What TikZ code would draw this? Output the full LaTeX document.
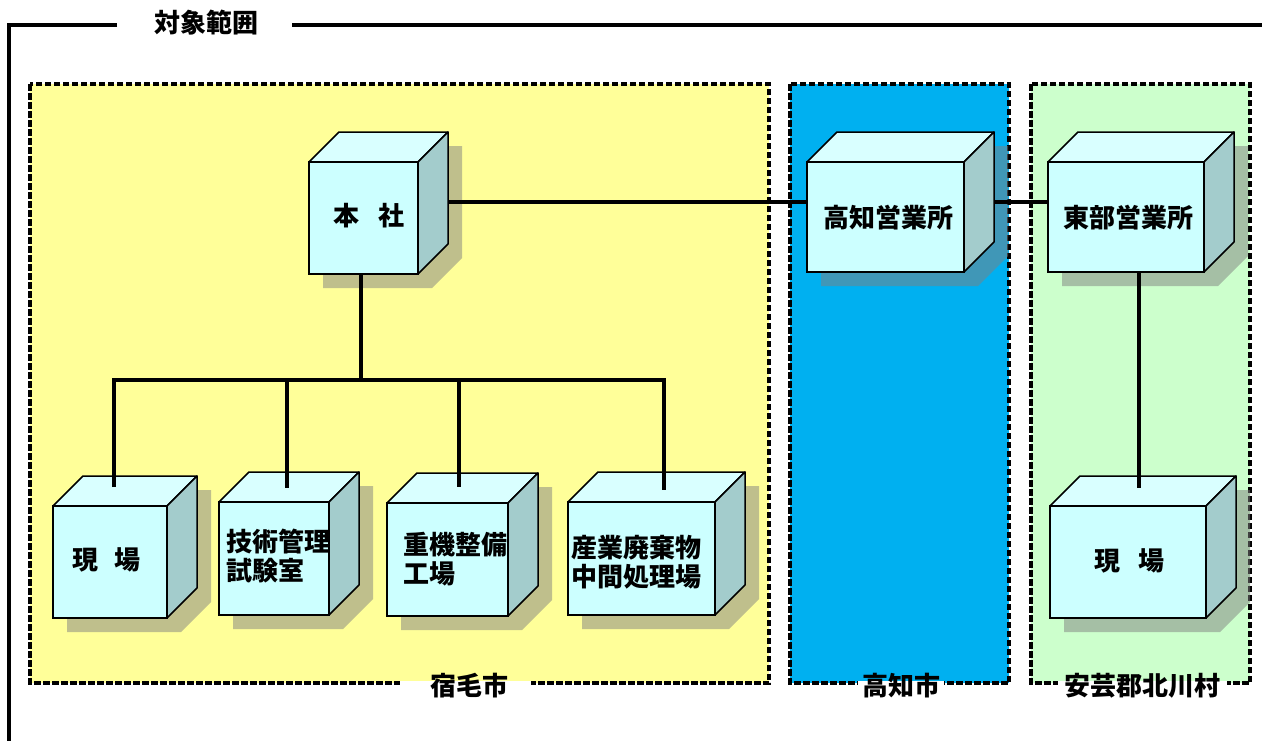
\documentclass[tikz,border=0pt]{standalone}
\usepackage{fontspec}
\setmainfont{Noto Sans CJK JP}
\definecolor{cyellow}{HTML}{FFFF99}
\definecolor{cblue}{HTML}{00B0F0}
\definecolor{cgreen}{HTML}{CCFFCC}
\definecolor{cfront}{HTML}{CCFFFF}
\definecolor{ctop}{HTML}{D9FFFF}
\definecolor{cside}{HTML}{A3CCCC}
\definecolor{cshadow}{RGB}{128,128,128}
\tikzset{
  conn/.style={line width=3.2pt},
  frameline/.style={line width=4pt},
  region/.style={line width=3.4pt, dash pattern=on 6.5pt off 2.5pt},
  frontf/.style={draw, line width=1.5pt, fill=cfront, inner sep=0pt, outer sep=0pt},
  topf/.style={draw, line width=1.5pt, fill=ctop, line join=round},
  sidef/.style={draw, line width=1.5pt, fill=cside, line join=round},
  shad/.style={fill=cshadow, fill opacity=0.5},
  lbl/.style={font=\fontsize{26}{29}\selectfont\bfseries, inner sep=0pt, align=left},
}
% name, x1, y1, x2, y2 (front face, pixel coordinates)
\newcommand\boxcube[5]{%
  \fill[shad] (#2+14,#3+14) -- (#2+44,#3-16) -- (#4+44,#3-16) -- (#4+44,#5-16)
     -- (#4+14,#5+14) -- (#2+14,#5+14) -- cycle;
  \draw[topf] (#2,#3) -- (#2+30,#3-30) -- (#4+30,#3-30) -- (#4,#3) -- cycle;
  \draw[sidef] (#4,#3) -- (#4+30,#3-30) -- (#4+30,#5-30) -- (#4,#5) -- cycle;
  \node[frontf, minimum width={#4pt-#2pt}, minimum height={#5pt-#3pt}]
     (#1) at ({(#2+#4)/2},{(#3+#5)/2}) {};
}
\begin{document}
\begin{tikzpicture}[x=1pt,y=-1pt]
\useasboundingbox (0,0) rectangle (1262,740);

% outer frame and title
\draw[frameline] (117,25) -- (9,25) -- (9,745);
\draw[frameline] (292,25) -- (1266,25);
\node[lbl] (title) at (206,23) {対象範囲};

% regions
\draw[region, fill=cyellow] (30,84) rectangle (769,683);
\draw[region, fill=cblue] (790,84) rectangle (1009,683);
\draw[region, fill=cgreen] (1031,84) rectangle (1250,683);

% region labels
\fill[white] (400,681) rectangle (531,705);
\fill[white] (858,681) rectangle (944,705);
\fill[white] (1058,681) rectangle (1227,705);
\node[lbl] (lsukumo) at (469,686) {宿毛市};
\node[lbl] (lkochi) at (901,686) {高知市};
\node[lbl] (laki) at (1142,686) {安芸郡北川村};

% boxes
\boxcube{honsha}{309}{162}{418}{274}
\boxcube{kochi}{807}{162}{964}{272}
\boxcube{tobu}{1048}{162}{1204}{272}
\boxcube{genba1}{53}{506}{167}{618}
\boxcube{gijutsu}{219}{502}{329}{615}
\boxcube{juki}{387}{503}{508}{616}
\boxcube{sangyo}{568}{502}{715}{615}
\boxcube{genba2}{1050}{506}{1206}{618}

% box texts
\node[lbl] (thonsha) at (369,216) {本\hspace{19pt}社};
\node[lbl] (tkochi) at (888,218) {高知営業所};
\node[lbl] (ttobu) at (1128,218) {東部営業所};
\node[lbl] (tgenba1) at (106.5,560) {現\hspace{17pt}場};
\node[lbl] (tgenba2) at (1129,561) {現\hspace{18pt}場};
\node[lbl, anchor=west] (tgijutsu) at (226,556.5) {技術管理\\試験室};
\node[lbl, anchor=west] (tjuki) at (403,559.5) {重機整備\\工場};
\node[lbl, anchor=west] (tsangyo) at (571,562) {産業廃棄物\\中間処理場};

% connectors
\draw[conn] ([shift={(30,-16)}]honsha.east) -- ([shift={(0,-15)}]kochi.west);
\draw[conn] ([shift={(30,-15)}]kochi.east) -- ([shift={(0,-15)}]tobu.west);

\coordinate (hub) at (361,380);
\coordinate (d1) at (114,487);
\coordinate (d2) at (287,488);
\coordinate (d3) at (459,487);
\coordinate (d4) at (664,490);
\draw[conn] (honsha.south -| hub) -- (hub);
\draw[conn] (d1) |- (hub) -| (d4);
\draw[conn] (d2 |- hub) -- (d2);
\draw[conn] (d3 |- hub) -- (d3);

\coordinate (t2) at (1139,488);
\draw[conn] (tobu.south -| t2) -- (t2);
\end{tikzpicture}
\end{document}
